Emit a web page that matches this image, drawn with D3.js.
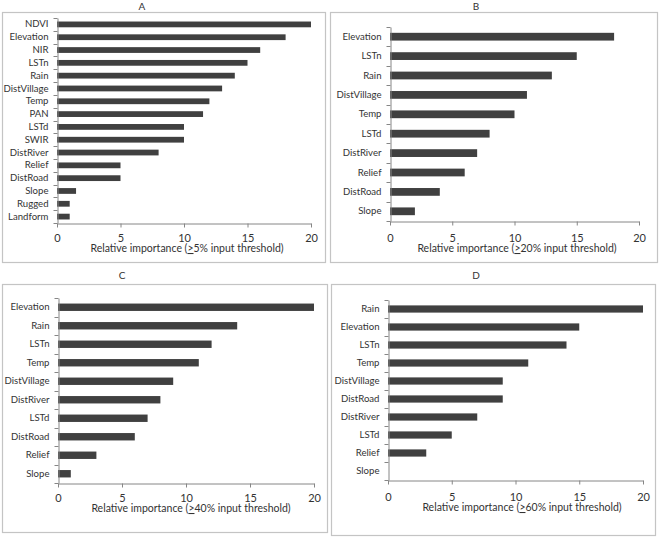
<!DOCTYPE html>
<html><head><meta charset="utf-8">
<script src="https://cdn.jsdelivr.net/npm/d3@7"></script>
<style>
html,body{margin:0;padding:0;background:#fff;}
svg{display:block;font-family:"Lato","Open Sans",sans-serif;}
</style></head>
<body><svg id="chart" width="660" height="538"></svg>
<script>
const catsA = ["NDVI","Elevation","NIR","LSTn","Rain","DistVillage","Temp","PAN","LSTd","SWIR","DistRiver","Relief","DistRoad","Slope","Rugged","Landform"];
const valsA = [20,18,16,15,14,13,12,11.5,10,10,8,5,5,1.5,1,1];
const catsB = ["Elevation","LSTn","Rain","DistVillage","Temp","LSTd","DistRiver","Relief","DistRoad","Slope"];
const valsB = [18,15,13,11,10,8,7,6,4,2];
const catsC = ["Elevation","Rain","LSTn","Temp","DistVillage","DistRiver","LSTd","DistRoad","Relief","Slope"];
const valsC = [20,14,12,11,9,8,7,6,3,1];
const catsD = ["Rain","Elevation","LSTn","Temp","DistVillage","DistRoad","DistRiver","LSTd","Relief","Slope"];
const valsD = [20,15,14,11,9,9,7,5,3,0];
const xTicks = [0,5,10,15,20];
const titles = ["A","B","C","D"];
const thresholds = ["5%","20%","40%","60%"];

const svg = d3.select("#chart");
const barColor = "#404040", axisColor = "#868686", textColor = "#333", frameColor = "#c4c4c4";

const panels = [
  {cats:catsA, vals:valsA, frame:[2,12,325,262], plot:[57,18,311,223], pad:0.55, title:[142,10], tick:241, lab:252, lx:187},
  {cats:catsB, vals:valsB, frame:[330,12,657,262], plot:[390,27,639,221], pad:0.6, title:[476,10], tick:241, lab:252, lx:517},
  {cats:catsC, vals:valsC, frame:[2,284,327,532], plot:[58,298,314,483], pad:0.6, title:[122,279], tick:501, lab:512, lx:191},
  {cats:catsD, vals:valsD, frame:[331,284,655,535], plot:[388,300,643,480], pad:0.6, title:[476,279], tick:500, lab:511, lx:522}
];

panels.forEach((p,i)=>{
  const g = svg.append("g");
  g.append("rect").attr("x",p.frame[0]+0.5).attr("y",p.frame[1]+0.5)
    .attr("width",p.frame[2]-p.frame[0]).attr("height",p.frame[3]-p.frame[1])
    .attr("fill","none").attr("stroke",frameColor).attr("stroke-width",1.2);
  g.append("text").attr("x",p.title[0]).attr("y",p.title[1]).attr("text-anchor","middle")
    .attr("font-size",10).attr("fill",textColor).text(titles[i]);

  const x = d3.scaleLinear().domain([0,20]).range([p.plot[0],p.plot[2]]);
  const y = d3.scaleBand().domain(p.cats).range([p.plot[1],p.plot[3]]).paddingInner(p.pad).paddingOuter(p.pad/2);

  g.selectAll("rect.bar").data(p.cats).enter().append("rect").attr("class","bar")
    .attr("x",x(0)).attr("y",d=>y(d))
    .attr("width",(d,j)=>x(p.vals[j])-x(0)).attr("height",y.bandwidth())
    .attr("fill",barColor);

  // x axis
  const xa = g.append("g").attr("transform",`translate(0,${p.plot[3]+0.5})`)
    .call(d3.axisBottom(x).tickValues(xTicks).tickSize(4).tickSizeOuter(0).tickFormat(d3.format("d")));
  xa.select(".domain").attr("stroke",axisColor);
  xa.selectAll(".tick line").attr("stroke",axisColor);
  xa.selectAll(".tick text").attr("font-size",11).attr("fill",textColor).attr("dy",null)
    .attr("y",p.tick-p.plot[3]).attr("font-family","Lato");

  // y axis
  const ya = g.append("g").attr("transform",`translate(${p.plot[0]+0.5},0)`)
    .call(d3.axisLeft(y).tickSize(0).tickPadding(9));
  ya.select(".domain").attr("stroke",axisColor);
  ya.selectAll(".tick text").attr("font-size",9.6).attr("fill",textColor).attr("font-family","Lato");
  // boundary ticks
  const bounds = d3.range(p.cats.length+1).map(k=>p.plot[1]+k*(p.plot[3]-p.plot[1])/p.cats.length);
  g.selectAll("line.bt").data(bounds).enter().append("line")
    .attr("x1",p.plot[0]+0.5-4).attr("x2",p.plot[0]+0.5)
    .attr("y1",d=>Math.round(d)+0.5).attr("y2",d=>Math.round(d)+0.5)
    .attr("stroke",axisColor);

  // axis title
  const t = g.append("text").attr("x",p.lx).attr("y",p.lab)
    .attr("text-anchor","middle").attr("font-size",10.5).attr("fill",textColor);
  t.append("tspan").text("Relative importance (");
  t.append("tspan").attr("text-decoration","underline").text(">");
  t.append("tspan").text(thresholds[i]+" input threshold)");
});
</script></body></html>
